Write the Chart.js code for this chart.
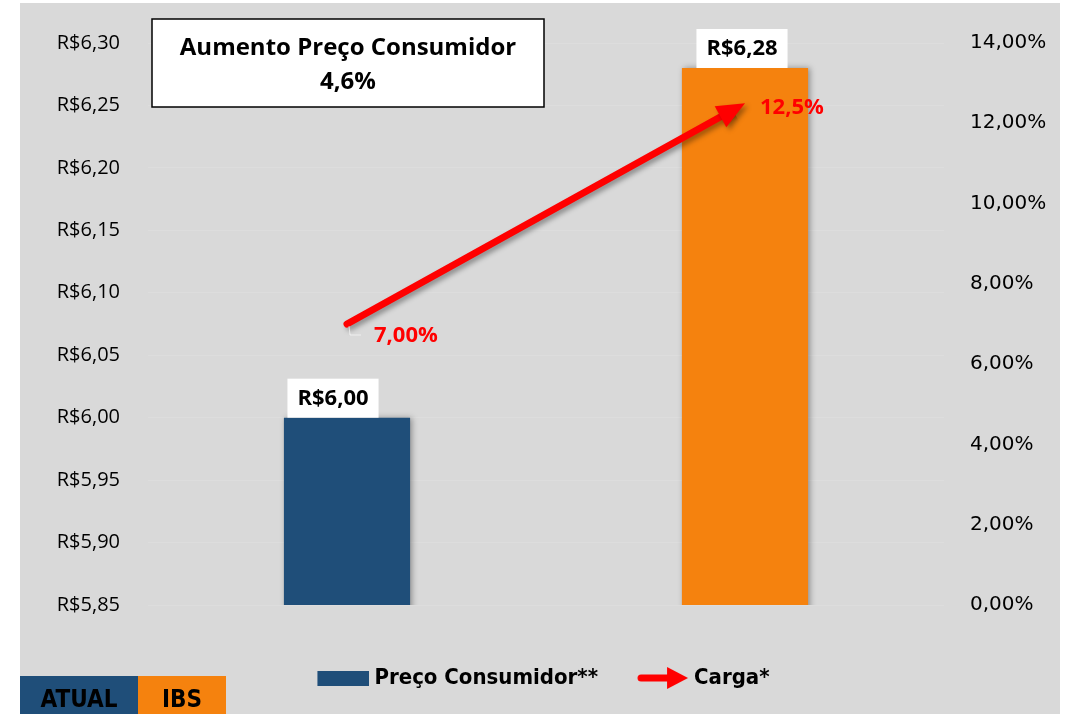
<!DOCTYPE html>
<html lang="pt-BR">
  <head>
    <meta charset="utf-8" />
    <script src="https://cdn.jsdelivr.net/npm/chart.js@4.4.1/dist/chart.umd.min.js"></script>
    <style>
      html, body { margin: 0; padding: 0; background: #ffffff; }
      #wrap { width: 1071px; height: 714px; }
    </style>
  </head>

  <body>
    <div id="wrap">
      <canvas id="Grafico"></canvas>
    </div>

  <script>
      // dados
      const categorias = ["ATUAL", "IBS"];
      const precoConsumidor = [6.00, 6.28];
      const precoLabels = ["R$6,00", "R$6,28"];
      const carga = [7.00, 12.5];
      const cargaLabels = ["7,00%", "12,5%"];
      const tituloCaixa = ["Aumento Preço Consumidor", "4,6%"];
      const precoMin = 5.85, precoMax = 6.30, precoPasso = 0.05;
      const cargaMin = 0, cargaMax = 14, cargaPasso = 2;

      const AZUL = "#1f4e79";
      const LARANJA = "#f5820e";
      const VERMELHO = "#ff0000";
      const FUNDO = "#d9d9d9";
      const fonteBase = "'Open Sans', sans-serif";
      const fonteNarrow = "'Liberation Sans Narrow', 'DejaVu Sans Condensed', sans-serif";

      function fmtReal(v) {
        return "R$" + v.toFixed(2).replace(".", ",");
      }
      function fmtPct(v) {
        return v.toFixed(2).replace(".", ",") + "%";
      }

      // icones da legenda
      function iconeBarra() {
        let c = document.createElement("canvas");
        c.width = 76; c.height = 15;
        let g = c.getContext("2d");
        g.fillStyle = AZUL;
        g.fillRect(24, 0, 52, 15);
        return c;
      }
      function iconeSeta() {
        let c = document.createElement("canvas");
        c.width = 76; c.height = 24;
        let g = c.getContext("2d");
        g.strokeStyle = VERMELHO;
        g.lineWidth = 7;
        g.lineCap = "round";
        g.beginPath();
        g.moveTo(28, 12);
        g.lineTo(56, 12);
        g.stroke();
        g.fillStyle = VERMELHO;
        g.beginPath();
        g.moveTo(54, 1);
        g.lineTo(75, 12);
        g.lineTo(54, 23);
        g.closePath();
        g.fill();
        return c;
      }

      const fundoPlugin = {
        id: "fundo",
        beforeDraw(chart) {
          const ctx = chart.ctx;
          ctx.save();
          ctx.fillStyle = FUNDO;
          ctx.fillRect(20, 3, 1040, 711);
          ctx.restore();
        },
      };

      function direcaoSeta(meta) {
        const pts = meta.data;
        const a = pts[pts.length - 2], b = pts[pts.length - 1];
        const ang = Math.atan2(b.y - a.y, b.x - a.x);
        return { x: b.x, y: b.y, c: Math.cos(ang), s: Math.sin(ang) };
      }

      const sombraPlugin = {
        id: "sombra",
        beforeDatasetDraw(chart, args) {
          const ctx = chart.ctx;
          ctx.save();
          ctx.shadowColor = "rgba(0,0,0,0.35)";
          if (args.meta.type === "bar") {
            ctx.shadowBlur = 6;
            ctx.shadowOffsetX = 2;
            ctx.shadowOffsetY = 0;
          } else {
            ctx.shadowBlur = 5;
            ctx.shadowOffsetX = 3;
            ctx.shadowOffsetY = 3;
            // corta a haste perto da ponta
            const d = direcaoSeta(args.meta);
            const bx = d.x - d.c * 14, by = d.y - d.s * 14;
            const fx = d.x + d.c * 30, fy = d.y + d.s * 30;
            ctx.beginPath();
            ctx.rect(0, 0, chart.width, chart.height);
            ctx.moveTo(bx - d.s * 20, by + d.c * 20);
            ctx.lineTo(fx - d.s * 20, fy + d.c * 20);
            ctx.lineTo(fx + d.s * 20, fy - d.c * 20);
            ctx.lineTo(bx + d.s * 20, by - d.c * 20);
            ctx.closePath();
            ctx.clip("evenodd");
          }
        },
        afterDatasetDraw(chart, args) {
          const ctx = chart.ctx;
          ctx.restore();
          if (args.meta.type === "line") {
            // ponta da seta
            const d = direcaoSeta(args.meta);
            ctx.save();
            ctx.shadowColor = "rgba(0,0,0,0.35)";
            ctx.shadowBlur = 5;
            ctx.shadowOffsetX = 3;
            ctx.shadowOffsetY = 3;
            ctx.fillStyle = VERMELHO;
            ctx.beginPath();
            ctx.moveTo(d.x, d.y);
            ctx.lineTo(d.x - d.c * 28 - d.s * 12, d.y - d.s * 28 + d.c * 12);
            ctx.lineTo(d.x - d.c * 28 + d.s * 12, d.y - d.s * 28 - d.c * 12);
            ctx.closePath();
            ctx.fill();
            ctx.restore();
          }
        },
      };

      const rotulosPlugin = {
        id: "rotulos",
        afterDatasetsDraw(chart) {
          const ctx = chart.ctx;
          ctx.save();

          // rotulos das barras
          const barras = chart.getDatasetMeta(1).data;
          const desloc = [-14, -3];
          ctx.font = "bold 22px " + fonteBase;
          ctx.textBaseline = "middle";
          ctx.textAlign = "center";
          barras.forEach((bar, i) => {
            const txt = precoLabels[i];
            const w = ctx.measureText(txt).width + 20;
            const cx = bar.x + desloc[i];
            ctx.fillStyle = "#ffffff";
            ctx.fillRect(cx - w / 2, bar.y - 39, w, 39);
            ctx.fillStyle = "#000000";
            ctx.fillText(txt, cx, bar.y - 19);
          });

          // rotulos da carga
          const pts = chart.getDatasetMeta(0).data;
          const off = [[27, 12], [15, 5]];
          ctx.font = "bold 22px " + fonteBase;
          ctx.textAlign = "left";
          ctx.fillStyle = VERMELHO;
          pts.forEach((p, i) => {
            ctx.fillText(cargaLabels[i], p.x + off[i][0], p.y + off[i][1]);
          });
          // linha guia
          const p0 = pts[0];
          ctx.strokeStyle = "rgba(255,255,255,0.6)";
          ctx.lineWidth = 1;
          ctx.beginPath();
          ctx.moveTo(p0.x + 2, p0.y + 2);
          ctx.lineTo(p0.x + 3, p0.y + 11);
          ctx.lineTo(p0.x + 14, p0.y + 11);
          ctx.stroke();

          // caixa do titulo
          ctx.fillStyle = "#ffffff";
          ctx.fillRect(152, 19, 392, 88);
          ctx.strokeStyle = "#000000";
          ctx.lineWidth = 1.5;
          ctx.strokeRect(152, 19, 392, 88);
          ctx.fillStyle = "#000000";
          ctx.font = "bold 24px " + fonteBase;
          ctx.textAlign = "center";
          ctx.fillText(tituloCaixa[0], 348, 48);
          ctx.fillText(tituloCaixa[1], 348, 82);

          // caixas ATUAL / IBS
          const caixas = [[20, 118, AZUL], [138, 88, LARANJA]];
          ctx.font = "bold 24px " + fonteNarrow;
          categorias.forEach((c, i) => {
            const [x, w, cor] = caixas[i];
            ctx.fillStyle = cor;
            ctx.fillRect(x, 676, w, 38);
            ctx.fillStyle = "#000000";
            ctx.fillText(c, x + w / 2, 701);
          });
          ctx.restore();
        },
      };

      const ctx = document.getElementById("Grafico");
      const myChart = new Chart(ctx, {
        data: {
          labels: categorias,
          datasets: [
            {
              type: "line",
              label: "Carga*",
              data: carga,
              yAxisID: "y1",
              borderColor: VERMELHO,
              backgroundColor: VERMELHO,
              borderWidth: 7,
              borderCapStyle: "round",
              pointRadius: 0,
              pointStyle: iconeSeta(),
              order: 0,
            },
            {
              type: "bar",
              label: "Preço Consumidor**",
              data: precoConsumidor,
              yAxisID: "y",
              backgroundColor: [AZUL, LARANJA],
              borderWidth: 0,
              barPercentage: 1,
              categoryPercentage: 0.317,
              pointStyle: iconeBarra(),
              order: 1,
            },
          ],
        },
        options: {
          responsive: true,
          maintainAspectRatio: false,
          animation: false,
          layout: {
            padding: { left: 9, right: 11, top: 43, bottom: 15 },
          },
          plugins: {
            tooltip: { enabled: false },
            legend: {
              position: "bottom",
              reverse: true,
              labels: {
                usePointStyle: true,
                pointStyleWidth: 64,
                padding: 21,
                color: "#000000",
                font: { family: fonteNarrow, size: 22, weight: "bold" },
              },
            },
          },
          scales: {
            x: {
              display: true,
              grid: { display: false, drawTicks: false },
              border: { display: false },
              ticks: { display: false },
              afterFit(scale) { scale.height = 41; },
            },
            y: {
              position: "left",
              min: precoMin,
              max: precoMax,
              grid: { color: "rgba(255,255,255,0.12)", drawTicks: false },
              border: { display: false },
              ticks: {
                stepSize: precoPasso,
                padding: 28,
                color: "#000000",
                font: { family: fonteBase, size: 20 },
                callback: (v) => fmtReal(v),
              },
              afterFit(scale) { scale.width = 139; },
            },
            y1: {
              position: "right",
              min: cargaMin,
              max: cargaMax,
              grid: { display: false, drawTicks: false },
              border: { display: false },
              ticks: {
                stepSize: cargaPasso,
                padding: 26,
                color: "#000000",
                font: { family: "'DejaVu Sans', sans-serif", size: 20 },
                callback: (v) => fmtPct(v),
              },
              afterFit(scale) { scale.width = 116; },
            },
          },
        },
        plugins: [fundoPlugin, sombraPlugin, rotulosPlugin],
      });
    </script>
  </body>
</html>
